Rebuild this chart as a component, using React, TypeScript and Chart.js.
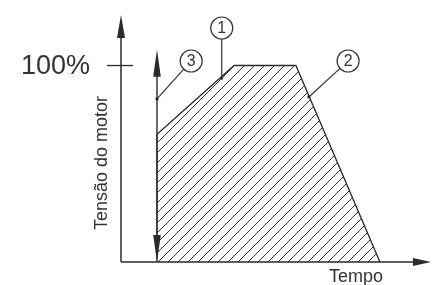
import React, { useEffect, useRef } from "react";
import { Chart, registerables } from "chart.js";

Chart.register(...registerables);

// ---- data ----
const timeValues = [11.65, 11.65, 36.6, 56.6, 83.8];
const voltageValues = [0, 65, 100, 100, 0];
const yTickValues = [100];
const yTickLabels = ["100%"];
const xTitle = "Tempo";
const yTitle = "Tensão do motor";
const markerLabels = ["1", "2", "3"];
const markerCircleX = [32.6, 73.5, 22.7];
const markerCircleY = [119.1, 102.3, 102.3];
const markerPointX = [32.6, 60.8, 11.65];
const markerPointY = [93.6, 84, 83];
const rangeArrowX = [11.65];
const rangeArrowFrom = [0];
const rangeArrowTo = [108];

const INK = "#2a2a2a";
const FONT = "'Liberation Sans', Arial, sans-serif";

function arrowHead(ctx: CanvasRenderingContext2D, tx: number, ty: number, dir: "up" | "down" | "right", len: number, half: number) {
  ctx.beginPath();
  if (dir === "up") {
    ctx.moveTo(tx, ty);
    ctx.lineTo(tx - half, ty + len);
    ctx.lineTo(tx + half, ty + len);
  } else if (dir === "down") {
    ctx.moveTo(tx, ty);
    ctx.lineTo(tx - half, ty - len);
    ctx.lineTo(tx + half, ty - len);
  } else {
    ctx.moveTo(tx, ty);
    ctx.lineTo(tx - len, ty - half);
    ctx.lineTo(tx - len, ty + half);
  }
  ctx.closePath();
  ctx.fill();
}

const decorPlugin = {
  id: "decor",
  afterDatasetsDraw(chart: any) {
    const ctx: CanvasRenderingContext2D = chart.ctx;
    const xs = chart.scales.x;
    const ys = chart.scales.y;
    const area = chart.chartArea;
    const x0 = xs.getPixelForValue(0);
    const y0 = ys.getPixelForValue(0);
    ctx.save();
    ctx.strokeStyle = INK;
    ctx.fillStyle = INK;
    ctx.lineWidth = 1.5;

    // y axis
    ctx.beginPath();
    ctx.moveTo(x0, y0);
    ctx.lineTo(x0, area.top + 10);
    ctx.stroke();
    arrowHead(ctx, x0, area.top - 1.5, "up", 23, 4);

    // x axis
    ctx.beginPath();
    ctx.moveTo(x0, y0);
    ctx.lineTo(area.right - 10, y0);
    ctx.stroke();
    arrowHead(ctx, area.right + 1, y0, "right", 18, 4);

    // y ticks
    yTickValues.forEach((v, i) => {
      const py = ys.getPixelForValue(v);
      ctx.lineWidth = 1.3;
      ctx.beginPath();
      ctx.moveTo(x0 - 14, py);
      ctx.lineTo(x0 + 12, py);
      ctx.stroke();
      ctx.font = `27px ${FONT}`;
      ctx.fillStyle = "#333";
      ctx.textAlign = "right";
      ctx.textBaseline = "middle";
      ctx.fillText(yTickLabels[i], x0 - 31, py + 1);
      ctx.fillStyle = INK;
    });

    // range double arrow
    rangeArrowX.forEach((vx, i) => {
      const px = xs.getPixelForValue(vx);
      const pa = ys.getPixelForValue(rangeArrowFrom[i]);
      const pb = ys.getPixelForValue(rangeArrowTo[i]);
      ctx.lineWidth = 1.4;
      ctx.beginPath();
      ctx.moveTo(px, pa - 10);
      ctx.lineTo(px, pb + 10);
      ctx.stroke();
      arrowHead(ctx, px, pb, "up", 27, 3.8);
      arrowHead(ctx, px, pa, "down", 27, 3.8);
    });

    // markers
    markerLabels.forEach((lab, i) => {
      const cx = xs.getPixelForValue(markerCircleX[i]);
      const cy = ys.getPixelForValue(markerCircleY[i]);
      const px = xs.getPixelForValue(markerPointX[i]);
      const py = ys.getPixelForValue(markerPointY[i]);
      const r = 11;
      ctx.lineWidth = 1.2;
      ctx.strokeStyle = "#333";
      ctx.beginPath();
      ctx.arc(cx, cy, r, 0, Math.PI * 2);
      ctx.stroke();
      const dx = px - cx, dy = py - cy;
      const d = Math.hypot(dx, dy);
      ctx.beginPath();
      ctx.moveTo(cx + (dx / d) * r, cy + (dy / d) * r);
      ctx.lineTo(px, py);
      ctx.stroke();
      ctx.beginPath();
      ctx.arc(px, py, 1.6, 0, Math.PI * 2);
      ctx.fill();
      ctx.font = `16px ${FONT}`;
      ctx.fillStyle = "#333";
      ctx.textAlign = "center";
      ctx.textBaseline = "middle";
      ctx.fillText(lab, cx, cy + 1);
      ctx.fillStyle = INK;
    });

    // titles
    ctx.fillStyle = "#333";
    ctx.font = `18px ${FONT}`;
    ctx.textAlign = "left";
    ctx.textBaseline = "alphabetic";
    ctx.fillText(xTitle, x0 + 208, y0 + 20);

    ctx.save();
    ctx.translate(x0 - 14, 163);
    ctx.rotate(-Math.PI / 2);
    ctx.textAlign = "center";
    ctx.fillText(yTitle, 0, 0);
    ctx.restore();

    ctx.restore();
  },
};

function makePattern(): CanvasPattern | string {
  const s = 10;
  const c = document.createElement("canvas");
  c.width = s;
  c.height = s;
  const g = c.getContext("2d");
  if (!g) return "rgba(0,0,0,0.2)";
  g.strokeStyle = "#333";
  g.lineWidth = 1;
  g.beginPath();
  g.moveTo(0, s);
  g.lineTo(s, 0);
  g.moveTo(-s / 2, s / 2);
  g.lineTo(s / 2, -s / 2);
  g.moveTo(s / 2, s + s / 2);
  g.lineTo(s + s / 2, s / 2);
  g.stroke();
  const p = g.createPattern(c, "repeat");
  return p || "rgba(0,0,0,0.2)";
}

export default function App() {
  const ref = useRef<HTMLCanvasElement | null>(null);
  useEffect(() => {
    if (!ref.current) return;
    const pattern = makePattern();
    const chart = new Chart(ref.current, {
      type: "line",
      data: {
        datasets: [
          {
            data: timeValues.map((t, i) => ({ x: t, y: voltageValues[i] })),
            borderColor: INK,
            borderWidth: 1.3,
            backgroundColor: pattern as any,
            fill: "origin",
            pointRadius: 0,
            tension: 0,
          },
        ],
      },
      options: {
        responsive: false,
        animation: false,
        events: [],
        layout: { padding: { left: 121, right: 2, top: 16.4, bottom: 23 } },
        plugins: { legend: { display: false }, tooltip: { enabled: false } },
        scales: {
          x: { type: "linear", min: 0, max: 100, display: false },
          y: { type: "linear", min: 0, max: 125, display: false },
        },
      },
      plugins: [decorPlugin],
    });
    return () => chart.destroy();
  }, []);
  return (
    <div style={{ position: "fixed", left: 0, top: 0, width: 432, height: 285, background: "#fff" }}>
      <canvas ref={ref} width={432} height={285} />
    </div>
  );
}
